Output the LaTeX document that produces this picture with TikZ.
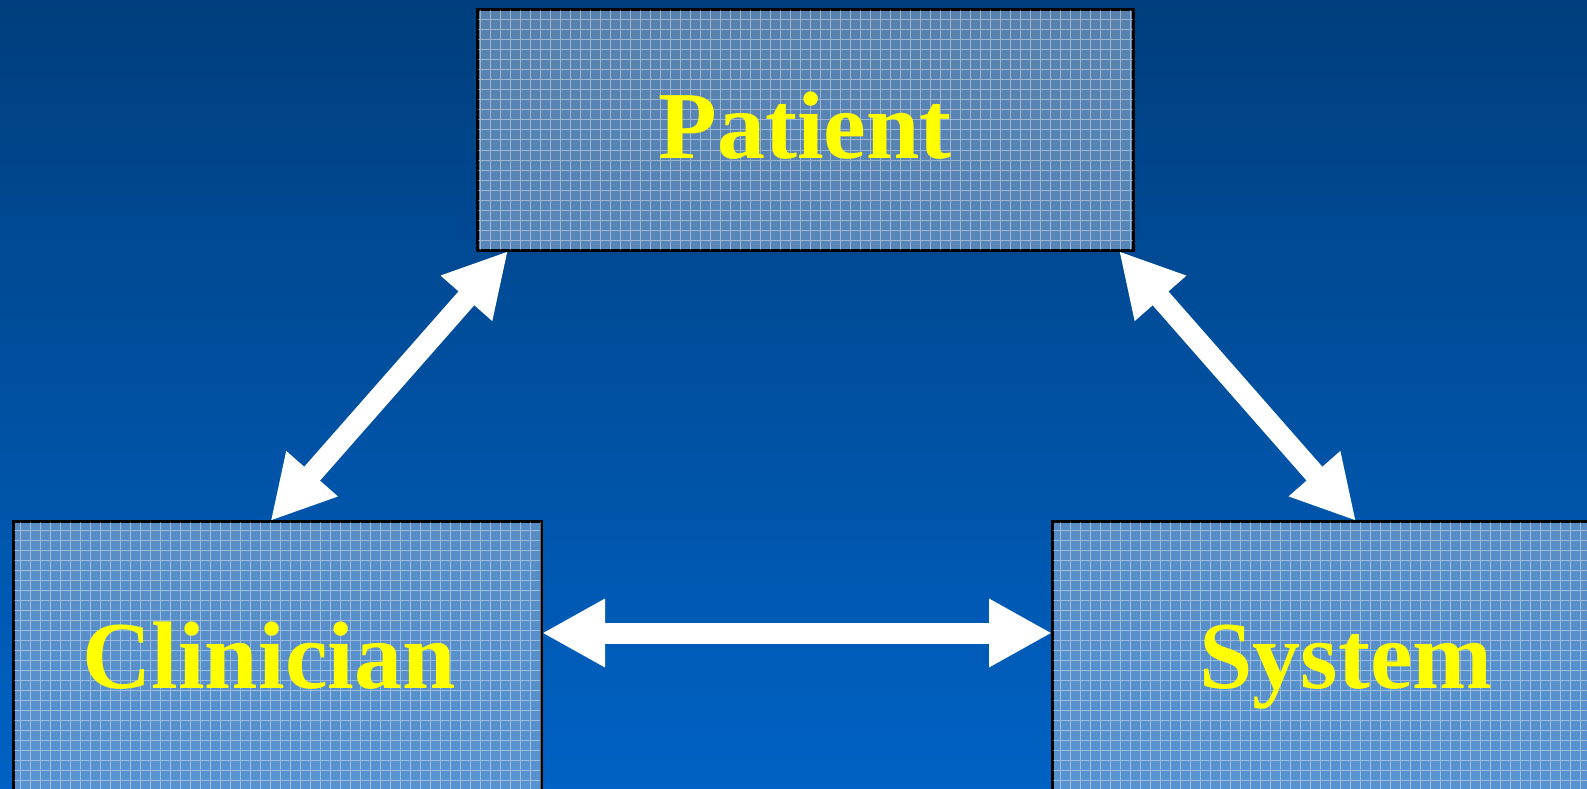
\documentclass[tikz,border=0pt]{standalone}
\usepackage{fontspec}
\setmainfont{Liberation Serif}
\usetikzlibrary{arrows.meta,calc}
\definecolor{bgtop}{RGB}{0,62,125}
\definecolor{bgbot}{RGB}{0,98,196}
\definecolor{boxfill}{RGB}{176,196,222}
\definecolor{labelyellow}{RGB}{255,255,0}
\tikzset{
  panel/.style={draw=black, line width=2pt, fill=boxfill, fill opacity=0.5, draw opacity=1, inner sep=0pt},
  gridlines/.style={draw=white, draw opacity=0.4, line width=1pt},
  label/.style={text=labelyellow, font=\fontsize{96}{100}\selectfont\bfseries, anchor=base, inner sep=0pt},
  biarrow/.style={draw=white, line width=21pt, {Triangle[width=64pt,length=63pt]}-{Triangle[width=64pt,length=63pt]}}
}
\begin{document}
\begin{tikzpicture}[x=1pt,y=-1pt]
\useasboundingbox (0,0) rectangle (1587,789);
\shade[top color=bgtop, bottom color=bgbot] (0,0) rectangle (1587,789);
% boxes
\node[panel, minimum width=655pt, minimum height=240pt, anchor=north west] (pa) at (477,9) {};
\node[panel, minimum width=527pt, minimum height=280pt, anchor=north west] (cl) at (13,521) {};
\node[panel, minimum width=545pt, minimum height=280pt, anchor=north west] (sy) at (1052,521) {};
\foreach \b in {pa,cl,sy}{
  \begin{scope}
    \clip (\b.north west) rectangle (\b.south east);
    \draw[gridlines, step=10pt] (\b.south west) grid (\b.north east);
  \end{scope}
  \draw[black, line width=2pt] (\b.north west) rectangle (\b.south east);
}
% labels
\node[label] (tpa) at (805,158) {Patient};
\node[label] (tcl) at (269,688) {Clinician};
\node[label] (tsy) at (1346,688) {System};
% arrows
\draw[biarrow] ([xshift=-7pt]cl.north) -- ([xshift=31pt]pa.south west);
\draw[biarrow] ([xshift=-15pt]pa.south east) -- ([xshift=304pt]sy.north west);
\draw[biarrow] ([yshift=29pt]cl.east) -- ([yshift=29pt]sy.west);
\end{tikzpicture}
\end{document}
